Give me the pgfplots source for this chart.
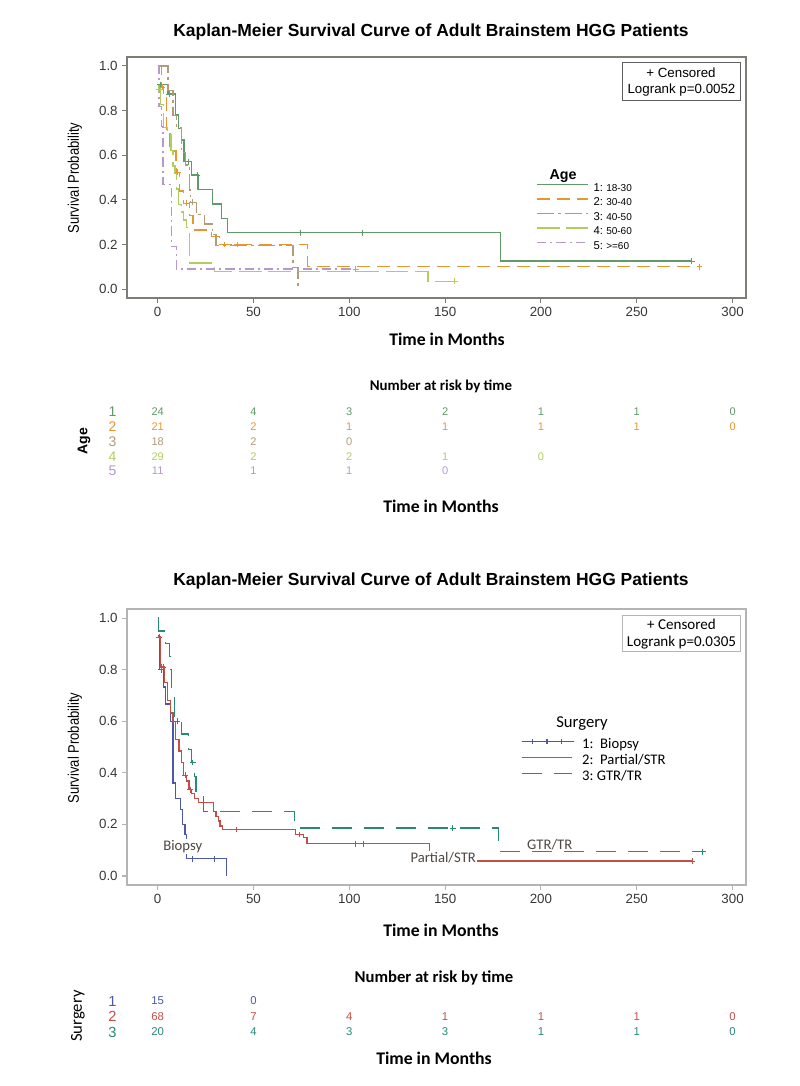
\documentclass[border=0pt]{standalone}
\usepackage{fontspec}
\setmainfont{Liberation Sans}
\newfontfamily\carlito{Carlito}
\usepackage{pgfplots}
\pgfplotsset{compat=1.18}

% colours
\definecolor{ageA}{RGB}{96,154,104}
\definecolor{ageB}{RGB}{232,150,48}
\definecolor{ageC}{RGB}{176,156,118}
\definecolor{ageD}{RGB}{176,206,94}
\definecolor{ageE}{RGB}{182,152,204}
\definecolor{surA}{RGB}{76,88,170}
\definecolor{surB}{RGB}{196,78,70}
\definecolor{surC}{RGB}{38,138,118}
\definecolor{tickgray}{RGB}{55,55,55}
\definecolor{framedark}{RGB}{125,125,118}
\definecolor{framelight}{RGB}{180,180,180}
\definecolor{lblgray}{RGB}{80,72,66}

\newcommand{\fs}[1]{\fontsize{#1}{#1}\selectfont}

\pgfplotsset{
  km axis/.style={
    scale only axis, width=464.25pt,
    xmin=-16, xmax=307,
    xtick={0,50,100,150,200,250,300},
    ytick={0,0.2,0.4,0.6,0.8,1.0},
    tick align=outside, tick pos=left,
    major tick length=3.5pt,
    yticklabel style={/pgf/number format/.cd, fixed, fixed zerofill, precision=1},
    ticklabel style={font=\fs{10}, text=tickgray},
    /pgf/number format/assume math mode=true,
    legend cell align=left,
    legend image code/.code={\draw[##1] (0pt,3pt) -- (38pt,3pt);},
  },
  biopsy image/.style={legend image code/.code={\draw[##1] (0pt,3pt) -- (39pt,3pt);
    \foreach \x in {8,19,30} {\draw[##1] (\x pt,1.3pt) -- (\x pt,4.7pt);}}},
  censor/.style={only marks, mark=+, mark size=2.2pt, line width=0.6pt, forget plot},
  km/.style={const plot, mark=none, line width=0.95pt},
  risk axis/.style={scale only axis, width=464.25pt, xmin=-16, xmax=307,
    hide axis, clip=false, y dir=reverse},
  riskrow/.style 2 args={draw=none, mark=none, nodes near coords={\pgfplotspointmeta},
    nodes near coords align=center, point meta=explicit symbolic,
    every node near coord/.append style={text=#1, font=#2, inner sep=0pt}},
}

\begin{document}
\begin{tikzpicture}
\path[use as bounding box] (0,0) rectangle (600pt,-814.5pt);

%% ---------------- top: age groups
\begin{axis}[km axis, at={(95.25pt,-223.5pt)}, anchor=south west,
  height=180.75pt, ymin=-0.04, ymax=1.04,
  axis line style={framedark, line width=0.9pt}, tick style={framedark, line width=0.8pt},
  legend style={at={(0.661,0.485)}, anchor=north west, draw=none, fill=none,
    inner sep=0pt, /tikz/row sep=0.4pt,
    nodes={inner sep=1pt, text height=6.5pt, text depth=2pt},
    /tikz/every odd column/.append style={column sep=3pt}}]
\addplot[km, ageA] coordinates {(0,0.917)(5.4,0.874)(9.2,0.78)(10.8,0.72)(12.4,0.668)
  (13.7,0.571)(17.6,0.511)(21.0,0.447)(28.5,0.381)(33.2,0.317)(36.3,0.253)(178.8,0.126)(278.7,0.126)};
\addlegendentry{\fs{8.5}1:\ \fs{7.5}18-30}
\addplot[km, ageB, dash pattern=on 10pt off 5pt] coordinates {(0,1.0)(2.0,0.905)(3.0,0.857)(4.5,0.714)
  (6.5,0.619)(9.5,0.524)(11.5,0.44)(13.5,0.385)(16.5,0.33)(18.5,0.265)(28.0,0.235)(32.3,0.2)(78.3,0.1)(282.7,0.1)};
\addlegendentry{\fs{8.5}2:\ \fs{7.5}30-40}
\addplot[km, ageC, dash pattern=on 13pt off 3pt on 2pt off 3pt] coordinates {(0,1.0)(5.4,0.889)(8.0,0.778)
  (10.0,0.722)(12.4,0.611)(14.5,0.556)(16.7,0.444)(17.0,0.389)(20.2,0.333)(24.5,0.292)(28.5,0.243)
  (30.5,0.194)(70.6,0.097)(73.2,0.0)};
\addlegendentry{\fs{8.5}3:\ \fs{7.5}40-50}
\addplot[km, ageD, dash pattern=on 17pt off 5pt] coordinates {(0,0.897)(1.5,0.828)(3.0,0.724)(5.0,0.69)
  (7.0,0.62)(8.0,0.552)(9.0,0.517)(10.0,0.448)(11.0,0.379)(12.5,0.345)(13.5,0.31)(15.0,0.276)
  (16.7,0.117)(29.7,0.078)(141,0.035)(155,0.035)};
\addlegendentry{\fs{8.5}4:\ \fs{7.5}50-60}
\addplot[km, ageE, dash pattern=on 7pt off 3pt on 1.5pt off 3pt] coordinates {(0,1.0)(0.7,0.818)(2.0,0.727)
  (2.8,0.47)(7.1,0.19)(9.7,0.09)(103.3,0.09)};
\addlegendentry{\fs{8.5}5:\ \fs{7.5}>=60}
% censored
\addplot[censor, ageA] coordinates {(1.4,0.917)(6.0,0.874)(16.2,0.571)(20.5,0.511)(74.4,0.253)(106.8,0.253)(278.7,0.126)};
\addplot[censor, ageB] coordinates {(2.5,0.905)(10.5,0.524)(15,0.385)(35,0.2)(41.5,0.2)(282.7,0.1)};
\addplot[censor, ageC] coordinates {(18.0,0.389)};
\addplot[censor, ageD] coordinates {(0.5,0.897)(155,0.035)};
\addplot[censor, ageE] coordinates {(103.3,0.09)};
\end{axis}

% top: number at risk
\begin{axis}[risk axis, at={(95.25pt,-353.25pt)}, anchor=south west,
  height=44.25pt, ymin=1, ymax=5]
\addplot[riskrow={ageA}{\fs{8.3}}] coordinates {(0,1)[24] (50,1)[4] (100,1)[3] (150,1)[2] (200,1)[1] (250,1)[1] (300,1)[0]};
\addplot[riskrow={ageB}{\fs{8.3}}] coordinates {(0,2)[21] (50,2)[2] (100,2)[1] (150,2)[1] (200,2)[1] (250,2)[1] (300,2)[0]};
\addplot[riskrow={ageC}{\fs{8.3}}] coordinates {(0,3)[18] (50,3)[2] (100,3)[0]};
\addplot[riskrow={ageD}{\fs{8.3}}] coordinates {(0,4)[29] (50,4)[2] (100,4)[2] (150,4)[1] (200,4)[0]};
\addplot[riskrow={ageE}{\fs{8.3}}] coordinates {(0,5)[11] (50,5)[1] (100,5)[1] (150,5)[0]};
\addplot[riskrow={ageA}{\fs{10.5}}] coordinates {(-23.5,1)[1]};
\addplot[riskrow={ageB}{\fs{10.5}}] coordinates {(-23.5,2)[2]};
\addplot[riskrow={ageC}{\fs{10.5}}] coordinates {(-23.5,3)[3]};
\addplot[riskrow={ageD}{\fs{10.5}}] coordinates {(-23.5,4)[4]};
\addplot[riskrow={ageE}{\fs{10.5}}] coordinates {(-23.5,5)[5]};
\end{axis}

%% ---------------- bottom: surgery groups
\begin{axis}[km axis, at={(95.25pt,-663.75pt)}, anchor=south west,
  height=207pt, ymin=-0.035, ymax=1.035,
  axis line style={framelight, line width=0.9pt}, tick style={framelight, line width=0.8pt},
  legend style={at={(0.636,0.536)}, anchor=north west, draw=none, fill=none,
    inner sep=0pt, /tikz/row sep=0pt,
    nodes={inner sep=1pt, text height=7.5pt, text depth=2.5pt, font=\carlito\fs{11}},
    /tikz/every odd column/.append style={column sep=5pt}}]
\addplot[km, surA, biopsy image]
  coordinates {(0,0.933)(1.0,0.80)(3.2,0.733)(4.2,0.667)(6.6,0.60)(8.0,0.36)(9.4,0.30)
  (11.9,0.258)(13.0,0.2)(14.2,0.16)(15.0,0.067)(36.0,0.0)};
\addlegendentry{1:\ \ Biopsy}
\addplot[km, surB] coordinates {(0,0.926)(1.5,0.81)(3.7,0.75)(5.1,0.68)(6.6,0.632)(8.0,0.60)
  (9.4,0.53)(11.2,0.485)(12.4,0.44)(13.6,0.39)(15.0,0.368)(16.4,0.335)(17.7,0.32)(19.4,0.30)
  (21.2,0.284)(29.0,0.25)(30.4,0.232)(31.6,0.213)(32.5,0.194)(33.9,0.18)(71.9,0.161)
  (76.2,0.148)(77.9,0.125)(141.8,0.058)(279,0.058)};
\addlegendentry{2:\ \ Partial/STR}
\addplot[km, surC, dash pattern=on 15pt off 9pt] coordinates {(0,1.0)(0.3,0.95)(4.0,0.90)(6.0,0.85)
  (7.0,0.80)(7.2,0.70)(8.8,0.60)(12.4,0.55)(15.9,0.49)(17.7,0.44)(19.4,0.385)(20.0,0.31)
  (23.8,0.25)(71.3,0.186)(178,0.094)(284.4,0.094)};
\addlegendentry{3:\ GTR/TR}
% censored
\addplot[censor, surA] coordinates {(1.8,0.80)(17.9,0.067)(29.4,0.067)};
\addplot[censor, surB] coordinates {(0.7,0.926)(2.0,0.81)(2.9,0.81)(14.3,0.39)(17.0,0.335)
  (41.3,0.18)(74.1,0.161)(103,0.125)(107.3,0.125)(279,0.058)};
\addplot[censor, surC] coordinates {(10.3,0.60)(18.3,0.44)(154,0.186)(284.4,0.094)};
% curve labels
\node[font=\carlito\fs{11}, text=lblgray, fill=white, inner sep=1pt] at (axis cs:13.1,0.115) {Biopsy};
\node[font=\carlito\fs{11}, text=lblgray, fill=white, inner sep=1pt] at (axis cs:149,0.072) {Partial/STR};
\node[font=\carlito\fs{11}, text=lblgray, fill=white, inner sep=1pt] at (axis cs:204.6,0.122) {GTR/TR};
\end{axis}

% bottom: number at risk
\begin{axis}[risk axis, at={(95.25pt,-774pt)}, anchor=south west,
  height=23.25pt, ymin=1, ymax=3]
\addplot[riskrow={surA}{\fs{8.5}}] coordinates {(0,1)[15] (50,1)[0]};
\addplot[riskrow={surB}{\fs{8.5}}] coordinates {(0,2)[68] (50,2)[7] (100,2)[4] (150,2)[1] (200,2)[1] (250,2)[1] (300,2)[0]};
\addplot[riskrow={surC}{\fs{8.5}}] coordinates {(0,3)[20] (50,3)[4] (100,3)[3] (150,3)[3] (200,3)[1] (250,3)[1] (300,3)[0]};
\addplot[riskrow={surA}{\fs{11}}] coordinates {(-23.6,1)[1]};
\addplot[riskrow={surB}{\fs{11}}] coordinates {(-23.6,2)[2]};
\addplot[riskrow={surC}{\fs{11}}] coordinates {(-23.6,3)[3]};
\end{axis}

%% ---------------- titles, labels, boxes (pixel coordinates)
\begin{scope}[x=0.75pt, y=-0.75pt]
\node[font=\bfseries\fs{13.1}] at (431,32) {Kaplan-Meier Survival Curve of Adult Brainstem HGG Patients};
\node[rotate=90, font=\fs{11.5}] at (75,178) {\scalebox{0.85}[1]{Survival Probability}};
\node[font=\carlito\bfseries\fs{13.3}] at (447,339) {Time in Months};
\node[font=\carlito\bfseries\fs{11.2}] at (441,386) {Number at risk by time};
\node[font=\carlito\bfseries\fs{13.3}] at (441,506) {Time in Months};
\node[rotate=90, font=\bfseries\fs{10.5}] at (84,441) {Age};
\node[font=\bfseries\fs{10.7}] at (563,176) {Age};
\draw[tickgray!80, line width=0.7pt] (622.7,62.7) rectangle (740,100);
\node[font=\fs{10}] at (681,73) {+ Censored};
\node[font=\fs{10}] at (681.5,90) {Logrank p=0.0052};

\node[font=\bfseries\fs{13.1}] at (431,581) {Kaplan-Meier Survival Curve of Adult Brainstem HGG Patients};
\node[rotate=90, font=\fs{11.5}] at (75,748) {\scalebox{0.85}[1]{Survival Probability}};
\node[font=\carlito\bfseries\fs{13.3}] at (441,930) {Time in Months};
\node[font=\carlito\bfseries\fs{12.5}] at (434,978) {Number at risk by time};
\node[font=\carlito\bfseries\fs{13.3}] at (434,1058) {Time in Months};
\node[rotate=90, font=\carlito\fs{12.5}] at (78,1016) {Surgery};
\node[font=\carlito\fs{12.5}] at (582,724) {Surgery};
\draw[framelight, line width=0.7pt] (622.3,615) rectangle (740.7,651.7);
\node[font=\carlito\fs{11.3}] at (681.5,624.3) {+ Censored};
\node[font=\carlito\fs{11.3}] at (681.5,642.3) {Logrank p=0.0305};
\end{scope}
\end{tikzpicture}
\end{document}
